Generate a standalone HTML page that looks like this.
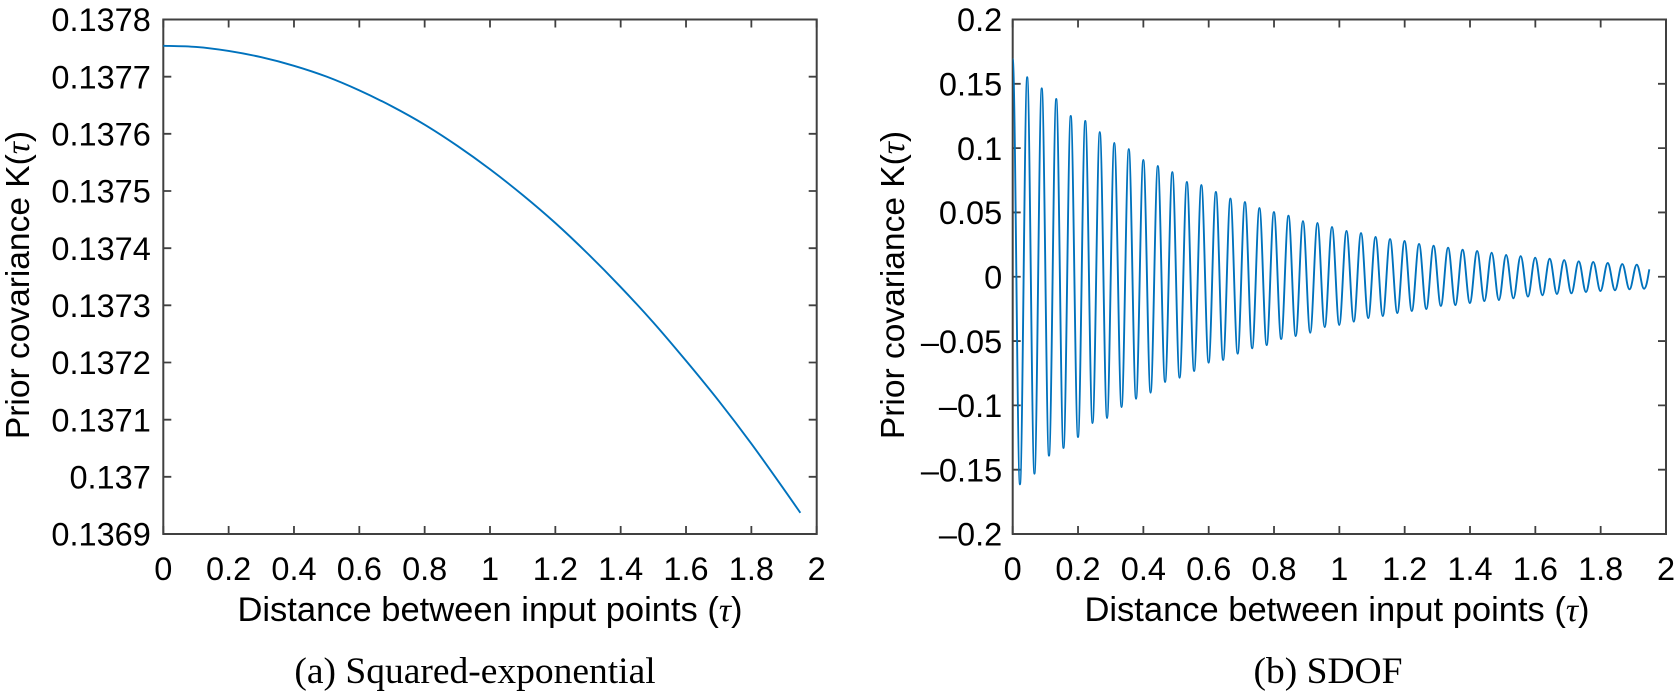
<!DOCTYPE html>
<html lang="en">
<head>
<meta charset="utf-8">
<title>Prior covariance comparison</title>
<style>
html,body{margin:0;padding:0;background:#fff;width:1679px;height:692px;overflow:hidden}
svg{display:block}
.tick{font:32.5px "Liberation Sans",sans-serif;fill:#000}
.axis-title{font:34.5px "Liberation Sans",sans-serif;fill:#000}
.axis-title-y{font:33.5px "Liberation Sans",sans-serif;fill:#000}
.tau{font:italic 34px "Liberation Serif",serif}
.caption{font:37.5px "Liberation Serif",serif;fill:#000}
</style>
</head>
<body>
<svg id="figure" xmlns="http://www.w3.org/2000/svg" width="1679" height="692" viewBox="0 0 1679 692">
  <g id="panel-a">
    <text class="axis-title" x="490" y="621" text-anchor="middle">Distance between input points (<tspan class="tau">τ</tspan>)</text>
    <text class="axis-title-y" transform="translate(29,285) rotate(-90)" text-anchor="middle">Prior covariance K(<tspan class="tau">τ</tspan>)</text>
    <text class="caption" x="475" y="683" text-anchor="middle">(a) Squared-exponential</text>
  </g>
  <g id="panel-b">
    <text class="axis-title" x="1337" y="621" text-anchor="middle">Distance between input points (<tspan class="tau">τ</tspan>)</text>
    <text class="axis-title-y" transform="translate(904,285) rotate(-90)" text-anchor="middle">Prior covariance K(<tspan class="tau">τ</tspan>)</text>
    <text class="caption" x="1328" y="683" text-anchor="middle">(b) SDOF</text>
  </g>
</svg>
<script>
var xTickValues = [0, 0.2, 0.4, 0.6, 0.8, 1, 1.2, 1.4, 1.6, 1.8, 2];
var xTickLabels = ['0', '0.2', '0.4', '0.6', '0.8', '1', '1.2', '1.4', '1.6', '1.8', '2'];

var yTicksA = [0.1369, 0.137, 0.1371, 0.1372, 0.1373, 0.1374, 0.1375, 0.1376, 0.1377, 0.1378];
var yTickLabelsA = ['0.1369', '0.137', '0.1371', '0.1372', '0.1373', '0.1374', '0.1375', '0.1376', '0.1377', '0.1378'];
var tauA = [0, 0.1, 0.2, 0.3, 0.4, 0.5, 0.6, 0.7, 0.8, 0.9, 1.0, 1.1, 1.2, 1.3, 1.4, 1.5, 1.6, 1.7, 1.8, 1.9, 1.95];
var covA = [0.137754, 0.137752, 0.137745, 0.137734, 0.137719, 0.137700, 0.137676, 0.137648, 0.137616, 0.137579, 0.137538, 0.137493, 0.137444, 0.137390, 0.137332, 0.137270, 0.137203, 0.137133, 0.137058, 0.136978, 0.136937];

var yTicksB = [-0.2, -0.15, -0.1, -0.05, 0, 0.05, 0.1, 0.15, 0.2];
var yTickLabelsB = ['–0.2', '–0.15', '–0.1', '–0.05', '0', '0.05', '0.1', '0.15', '0.2'];
var tauPeaksB = [0, 0.0444, 0.0889, 0.1333, 0.1777, 0.2222, 0.2666, 0.3110, 0.3554, 0.3999, 0.4443, 0.4887, 0.5332, 0.5776, 0.6220, 0.6665, 0.7109, 0.7553, 0.7997, 0.8442, 0.8886, 0.9330, 0.9775, 1.0219, 1.0663, 1.1108, 1.1552, 1.1996, 1.2440, 1.2885, 1.3329, 1.3773, 1.4218, 1.4662, 1.5106, 1.5551, 1.5995, 1.6439, 1.6883, 1.7328, 1.7772, 1.8216, 1.8661, 1.9105];
var covPeaksB = [0.1691, 0.1551, 0.1465, 0.1382, 0.1250, 0.1211, 0.1125, 0.1040, 0.0993, 0.0908, 0.0861, 0.0814, 0.0737, 0.0713, 0.0659, 0.0608, 0.0581, 0.0534, 0.0503, 0.0475, 0.0433, 0.0418, 0.0387, 0.0356, 0.0340, 0.0309, 0.0293, 0.0278, 0.0255, 0.0241, 0.0226, 0.0210, 0.0200, 0.0187, 0.0169, 0.0161, 0.0148, 0.0140, 0.0130, 0.0120, 0.0115, 0.0107, 0.0099, 0.0094];
var tauTroughsB = [0.0222, 0.0666, 0.1111, 0.1555, 0.1999, 0.2444, 0.2888, 0.3332, 0.3776, 0.4221, 0.4665, 0.5109, 0.5554, 0.5998, 0.6442, 0.6887, 0.7331, 0.7775, 0.8219, 0.8664, 0.9108, 0.9552, 0.9997, 1.0441, 1.0885, 1.1330, 1.1774, 1.2218, 1.2662, 1.3107, 1.3551, 1.3995, 1.4440, 1.4884, 1.5328, 1.5773, 1.6217, 1.6661, 1.7105, 1.7550, 1.7994, 1.8438, 1.8883, 1.9327];
var covTroughsB = [-0.1614, -0.1531, -0.1391, -0.1331, -0.1246, -0.1137, -0.1098, -0.1013, -0.0948, -0.0901, -0.0818, -0.0785, -0.0733, -0.0668, -0.0647, -0.0598, -0.0556, -0.0531, -0.0484, -0.0461, -0.0435, -0.0391, -0.0375, -0.0349, -0.0321, -0.0305, -0.0282, -0.0266, -0.0251, -0.0227, -0.0220, -0.0204, -0.0189, -0.0181, -0.0168, -0.0155, -0.0144, -0.0134, -0.0129, -0.0119, -0.0111, -0.0105, -0.0098, -0.0093];
var tauEndB = 1.949;
var covEndB = 0.0058;

var NS = 'http://www.w3.org/2000/svg';
var AXIS = '#404040', LINE = '#0072BD', TICK_LEN = 8;

function make(parent, tag, attrs, text) {
  var el = document.createElementNS(NS, tag);
  for (var k in attrs) el.setAttribute(k, attrs[k]);
  if (text !== undefined) el.textContent = text;
  parent.appendChild(el);
  return el;
}

function drawAxes(parent, box, sx, sy, yVals, yLabels, labelGap) {
  var frame = make(parent, 'rect', {x: box.l, y: box.t, width: box.r - box.l, height: box.b - box.t, fill: 'none', stroke: AXIS, 'stroke-width': 2});
  
  
  xTickValues.forEach(function (v, i) {
    var x = sx(v);
    var t = make(parent, 'path', {d: 'M' + x + ' ' + box.b + 'V' + (box.b - TICK_LEN) + 'M' + x + ' ' + box.t + 'V' + (box.t + TICK_LEN), stroke: AXIS, 'stroke-width': 1.8, fill: 'none'});
    
    
    var l = make(parent, 'text', {x: x, y: 580, 'text-anchor': 'middle', 'class': 'tick'}, xTickLabels[i]);
    
    
  });
  yVals.forEach(function (v, i) {
    var y = sy(v);
    var t = make(parent, 'path', {d: 'M' + box.l + ' ' + y + 'H' + (box.l + TICK_LEN) + 'M' + box.r + ' ' + y + 'H' + (box.r - TICK_LEN), stroke: AXIS, 'stroke-width': 1.8, fill: 'none'});
    
    
    var l = make(parent, 'text', {x: box.l - labelGap, y: y + 11.7, 'text-anchor': 'end', 'class': 'tick'}, yLabels[i]);
    
    
  });
}

function linear(d0, d1, r0, r1) {
  return function (v) { return +(r0 + (v - d0) / (d1 - d0) * (r1 - r0)).toFixed(2); };
}

/* Panel A: smooth curve through the read points */
var boxA = {l: 163.3, r: 816.7, t: 19.5, b: 534};
var sxA = linear(0, 2, boxA.l, boxA.r);
var syA = linear(0.1369, 0.1378, boxA.b, boxA.t);
var gA = document.getElementById('panel-a');
drawAxes(gA, boxA, sxA, syA, yTicksA, yTickLabelsA, 12.5);
var dA = 'M' + sxA(tauA[0]) + ' ' + syA(covA[0]);
for (var i = 0; i < tauA.length - 1; i++) {
  var i0 = Math.max(i - 1, 0), i3 = Math.min(i + 2, tauA.length - 1);
  var x1 = sxA(tauA[i]), y1 = syA(covA[i]), x2 = sxA(tauA[i + 1]), y2 = syA(covA[i + 1]);
  var c1x = x1 + (x2 - sxA(tauA[i0])) / 6, c1y = y1 + (y2 - syA(covA[i0])) / 6;
  var c2x = x2 - (sxA(tauA[i3]) - x1) / 6, c2y = y2 - (syA(covA[i3]) - y1) / 6;
  dA += 'C' + c1x.toFixed(2) + ' ' + c1y.toFixed(2) + ' ' + c2x.toFixed(2) + ' ' + c2y.toFixed(2) + ' ' + x2 + ' ' + y2;
}
var lineA = make(gA, 'path', {d: dA, fill: 'none', stroke: LINE, 'stroke-width': 1.9});



/* Panel B: oscillation drawn through its alternating peaks and troughs */
var boxB = {l: 1012.7, r: 1666, t: 19.5, b: 534};
var sxB = linear(0, 2, boxB.l, boxB.r);
var syB = linear(-0.2, 0.2, boxB.b, boxB.t);
var gB = document.getElementById('panel-b');
drawAxes(gB, boxB, sxB, syB, yTicksB, yTickLabelsB, 10.5);
var ptsB = [];
tauPeaksB.forEach(function (t, k) {
  ptsB.push([sxB(t), syB(covPeaksB[k])]);
  ptsB.push([sxB(tauTroughsB[k]), syB(covTroughsB[k])]);
});
var dB = 'M' + ptsB[0][0] + ' ' + ptsB[0][1];
for (var j = 1; j < ptsB.length; j++) {
  var a = ptsB[j - 1], b = ptsB[j], off = (b[0] - a[0]) * 0.36;
  dB += 'C' + (a[0] + off).toFixed(2) + ' ' + a[1] + ' ' + (b[0] - off).toFixed(2) + ' ' + b[1] + ' ' + b[0] + ' ' + b[1];
}
var lastB = ptsB[ptsB.length - 1], endX = sxB(tauEndB), endY = syB(covEndB);
dB += 'C' + (lastB[0] + (endX - lastB[0]) * 0.5).toFixed(2) + ' ' + lastB[1] + ' ' + (endX - (endX - lastB[0]) * 0.2).toFixed(2) + ' ' + (endY + 5) + ' ' + endX + ' ' + endY;
var lineB = make(gB, 'path', {d: dB, fill: 'none', stroke: LINE, 'stroke-width': 1.9, 'stroke-linejoin': 'round'});


</script>
</body>
</html>
